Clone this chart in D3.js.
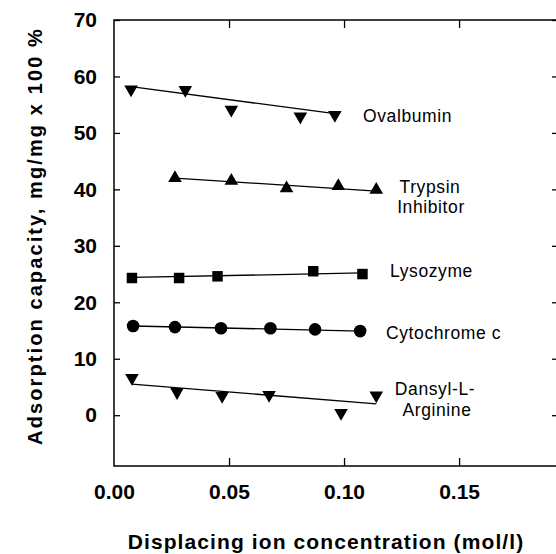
<!DOCTYPE html>
<html lang="en">
<head>
<meta charset="UTF-8">
<title>Adsorption capacity</title>
<script src="https://cdn.jsdelivr.net/npm/d3@7"></script>
<style>
  body { margin: 0; background: #fff; }
  text { font-family: "Liberation Sans", Arial, Helvetica, sans-serif; fill: #000; }
</style>
</head>
<body>
<div id="chart"></div>
<script>
// data (x in mol/l, y in mg/mg x 100 %)
const ovalX = [0.0074, 0.031, 0.051, 0.081, 0.096]
const ovalY = [57.7, 57.6, 54.1, 52.9, 53.2]
const trypX = [0.0265, 0.051, 0.075, 0.0975, 0.114]
const trypY = [42.0, 41.5, 40.2, 40.6, 39.9]
const lysoX = [0.0078, 0.0283, 0.045, 0.0866, 0.108]
const lysoY = [24.3, 24.3, 24.6, 25.5, 25.0]
const cytoX = [0.0083, 0.0265, 0.0465, 0.068, 0.0874, 0.107]
const cytoY = [15.8, 15.6, 15.4, 15.4, 15.2, 14.9]
const dansX = [0.0078, 0.0274, 0.047, 0.0674, 0.0987, 0.114]
const dansY = [6.6, 4.1, 3.4, 3.6, 0.4, 3.5]

// fitted lines, [start, end]
const ovalFit = [[0.0074, 58.2], [0.096, 53.4]]
const trypFit = [[0.0265, 42.0], [0.114, 39.7]]
const lysoFit = [[0.0078, 24.4], [0.108, 25.2]]
const cytoFit = [[0.0083, 15.8], [0.107, 14.9]]
const dansFit = [[0.0078, 5.5], [0.114, 2.0]]

const xTicks = [0.00, 0.05, 0.10, 0.15]
const yTicks = [0, 10, 20, 30, 40, 50, 60, 70]

const width = 556, height = 554
const plotL = 114, plotR = 558, plotT = 20, plotB = 466

const svg = d3.select("#chart").append("svg")
    .attr("width", width)
    .attr("height", height)

const x = d3.scaleLinear().domain([0, 0.193]).range([plotL, plotR])
const y = d3.scaleLinear().domain([-9, 70]).range([plotB, plotT])

// frame
svg.append("rect")
    .attr("x", plotL).attr("y", plotT)
    .attr("width", plotR - plotL).attr("height", plotB - plotT)
    .attr("fill", "none").attr("stroke", "#000").attr("stroke-width", 1.5)

// axes: ticks pointing inward, labels only on left and bottom
const fmtX = d3.format(".2f")
svg.append("g")
    .attr("transform", `translate(0,${plotB})`)
    .call(d3.axisBottom(x).tickValues(xTicks).tickSize(-8).tickPadding(18).tickFormat(fmtX))
    .call(g => g.select(".domain").remove())
    .call(g => g.selectAll(".tick").filter(d => d === 0).select("line").remove())
    .call(g => g.selectAll("text").attr("font-size", 21).attr("font-weight", "bold")
        .attr("font-family", "Liberation Sans, Arial, sans-serif"))
svg.append("g")
    .attr("transform", `translate(0,${plotT})`)
    .call(d3.axisTop(x).tickValues(xTicks.filter(d => d > 0)).tickSize(-8).tickFormat(""))
    .call(g => g.select(".domain").remove())

svg.append("g")
    .attr("transform", `translate(${plotL},0)`)
    .call(d3.axisLeft(y).tickValues(yTicks).tickSize(-6).tickPadding(17))
    .call(g => g.select(".domain").remove())
    .call(g => g.selectAll("text").attr("font-size", 21).attr("font-weight", "bold")
        .attr("font-family", "Liberation Sans, Arial, sans-serif"))
svg.append("g")
    .attr("transform", `translate(${plotR},0)`)
    .call(d3.axisRight(y).tickValues(yTicks).tickSize(-6).tickFormat(""))
    .call(g => g.select(".domain").remove())

svg.selectAll(".tick line").attr("stroke", "#000").attr("stroke-width", 1.3)

// axis titles
svg.append("text")
    .attr("x", 326).attr("y", 549)
    .attr("text-anchor", "middle")
    .attr("font-size", 21).attr("font-weight", "bold")
    .attr("letter-spacing", 1.1)
    .text("Displacing ion concentration (mol/l)")

svg.append("text")
    .attr("transform", "translate(42,236) rotate(-90)")
    .attr("text-anchor", "middle")
    .attr("font-size", 20).attr("font-weight", "bold")
    .attr("letter-spacing", 2.1)
    .text("Adsorption capacity, mg/mg x 100 %")

// series
const series = [
  {xs: ovalX, ys: ovalY, fit: ovalFit, shape: d3.symbolTriangle, rot: 180, size: 80},
  {xs: trypX, ys: trypY, fit: trypFit, shape: d3.symbolTriangle, rot: 0, size: 80},
  {xs: lysoX, ys: lysoY, fit: lysoFit, shape: d3.symbolSquare, rot: 0, size: 110},
  {xs: cytoX, ys: cytoY, fit: cytoFit, shape: d3.symbolCircle, rot: 0, size: 125},
  {xs: dansX, ys: dansY, fit: dansFit, shape: d3.symbolTriangle, rot: 180, size: 80}
]

const line = d3.line().x(d => x(d[0])).y(d => y(d[1]))

series.forEach(s => {
  svg.append("path")
      .attr("d", line(s.fit))
      .attr("fill", "none")
      .attr("stroke", "#000")
      .attr("stroke-width", 1.3)

  svg.append("g").selectAll("path")
    .data(s.xs.map((v, i) => [v, s.ys[i]]))
    .join("path")
      .attr("d", d3.symbol().type(s.shape).size(s.size))
      .attr("transform", d => `translate(${x(d[0])},${y(d[1])}) rotate(${s.rot})`)
      .attr("fill", "#000")
})

// series labels
const labelFont = 17.5
svg.append("text").attr("x", 363).attr("y", 122)
    .attr("font-size", labelFont).attr("letter-spacing", 0.6).text("Ovalbumin")
svg.append("text").attr("x", 430).attr("y", 193).attr("text-anchor", "middle")
    .attr("font-size", labelFont).attr("letter-spacing", 0.6).text("Trypsin")
svg.append("text").attr("x", 431).attr("y", 213).attr("text-anchor", "middle")
    .attr("font-size", labelFont).attr("letter-spacing", 0.6).text("Inhibitor")
svg.append("text").attr("x", 390).attr("y", 277)
    .attr("font-size", labelFont).attr("letter-spacing", 0.6).text("Lysozyme")
svg.append("text").attr("x", 386).attr("y", 339)
    .attr("font-size", labelFont).attr("letter-spacing", 0.6).text("Cytochrome c")
svg.append("text").attr("x", 435).attr("y", 395).attr("text-anchor", "middle")
    .attr("font-size", labelFont).attr("letter-spacing", 0.6).text("Dansyl-L-")
svg.append("text").attr("x", 437).attr("y", 416).attr("text-anchor", "middle")
    .attr("font-size", labelFont).attr("letter-spacing", 0.6).text("Arginine")
</script>
</body>
</html>
